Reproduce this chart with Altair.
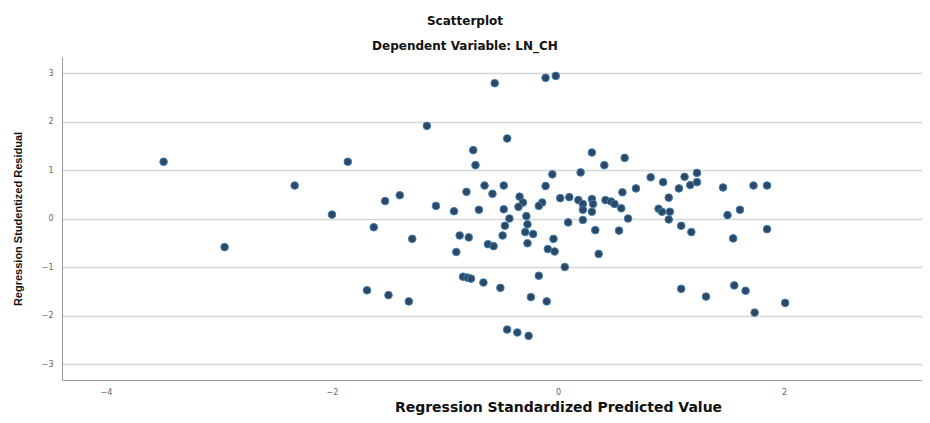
import altair as alt
import pandas as pd

# Regression standardized predicted value (x) and studentized residual (y)
x_pred = [
    -3.49, -1.86, -2.33, -1.53, -1.40, -2.00, -1.63, -1.29, -2.95, -1.69, -1.50, -1.32, -1.16,
    -0.56, -0.11, -0.02, -0.45, -0.75, -0.73, -0.05, -0.65, -0.48, -0.11, -0.81, -0.58, -0.34,
    -0.31, -0.35, 0.02, 0.10, -0.14, -0.17, -1.08, -0.92, -0.70, -0.48, -0.43, -0.28, -0.27,
    -0.47, 0.09, -0.87, -0.79, -0.49, -0.29, -0.22, -0.04, -0.62, -0.57, -0.90, -0.27, -0.09,
    -0.03, 0.06, -0.84, -0.80, -0.77, -0.66, -0.51, -0.17, -0.24, -0.10, -0.45, -0.36, -0.26,
    0.30, 0.59, 0.41, 0.20, 0.82, 0.93, 1.12, 1.07, 0.69, 0.57, 0.18, 0.22, 0.30, 0.31, 0.22,
    0.30, 0.42, 0.47, 0.50, 0.56, 0.98, 0.89, 0.92, 0.99, 0.98, 0.62, 0.22, 0.33, 0.54, 1.09,
    0.36, 1.23, 1.23, 1.17, 1.46, 1.73, 1.85, 1.61, 1.50, 1.18, 1.55, 1.85, 1.56, 1.66, 1.31,
    2.01, 1.74, 1.09,
]
y_resid = [
    1.18, 1.18, 0.69, 0.37, 0.49, 0.09, -0.17, -0.41, -0.58, -1.47, -1.57, -1.70, 1.92,
    2.80, 2.91, 2.95, 1.66, 1.42, 1.11, 0.92, 0.69, 0.69, 0.68, 0.56, 0.52, 0.46,
    0.34, 0.25, 0.43, 0.45, 0.34, 0.27, 0.27, 0.16, 0.19, 0.20, 0.01, 0.06, -0.11,
    -0.14, -0.07, -0.34, -0.38, -0.34, -0.27, -0.31, -0.41, -0.52, -0.56, -0.68, -0.50, -0.62,
    -0.67, -0.99, -1.19, -1.21, -1.23, -1.31, -1.42, -1.17, -1.61, -1.70, -2.28, -2.34, -2.41,
    1.37, 1.26, 1.11, 0.96, 0.86, 0.76, 0.87, 0.63, 0.63, 0.55, 0.39, 0.31, 0.41, 0.31, 0.19,
    0.15, 0.39, 0.36, 0.31, 0.22, 0.44, 0.21, 0.15, 0.15, -0.01, 0.01, -0.02, -0.23, -0.24, -0.14,
    -0.72, 0.95, 0.76, 0.70, 0.65, 0.69, 0.69, 0.19, 0.08, -0.27, -0.40, -0.21, -1.37, -1.48, -1.60,
    -1.73, -1.93, -1.44,
]

x_ticks = [-4, -2, 0, 2]
y_ticks = [-3, -2, -1, 0, 1, 2, 3]

df = pd.DataFrame({"x": x_pred, "y": y_resid})

W, H = 860, 323

chart = (
    alt.Chart(df)
    .mark_circle(size=58, color="#2c4864", opacity=1, stroke="#3f7fb3", strokeWidth=1)
    .encode(
        x=alt.X(
            "x:Q",
            scale=alt.Scale(domain=[-4.389, 3.221], nice=False, zero=False),
            axis=alt.Axis(
                values=x_ticks,
                grid=False,
                ticks=False,
                labelPadding=8,
                labelFontSize=8,
                labelColor="#666666",
                labelFont="DejaVu Sans",
                domainColor="#9a9a9a",
                title="Regression Standardized Predicted Value",
                titleFont="DejaVu Sans",
                titleFontSize=14,
                titleFontWeight="bold",
                titleColor="#111111",
                titleX=496,
                titleY=31,
                titleAlign="center",
                titleBaseline="alphabetic",
            ),
        ),
        y=alt.Y(
            "y:Q",
            scale=alt.Scale(domain=[-3.32, 3.34], nice=False, zero=False),
            axis=alt.Axis(
                values=y_ticks,
                grid=True,
                gridColor="#d6d6d6",
                gridWidth=1.5,
                ticks=False,
                labelPadding=9,
                labelFontSize=8,
                labelColor="#666666",
                labelFont="DejaVu Sans",
                domainColor="#9a9a9a",
                title="Regression Studentized Residual",
                titleFont="Liberation Sans",
                titleFontSize=11,
                titleFontWeight="bold",
                titleColor="#111111",
                titleX=-44,
                titleBaseline="middle",
            ),
        ),
    )
    .properties(
        width=W,
        height=H,
        autosize=alt.AutoSizeParams(type="none"),
        padding={"left": 54, "top": 49, "right": 0, "bottom": 35},
        title=alt.TitleParams(
            text="Scatterplot",
            subtitle="Dependent Variable: LN_CH",
            anchor="middle",
            dx=-27,
            offset=4,
            font="DejaVu Sans",
            fontSize=12,
            fontWeight="bold",
            color="#111111",
            subtitleFont="DejaVu Sans",
            subtitleFontSize=12,
            subtitleFontWeight="bold",
            subtitleColor="#111111",
            subtitlePadding=13,
        ),
    )
    .configure_view(stroke=None)
)

chart.save("out.html", embed_options={"renderer": "svg", "actions": False})
